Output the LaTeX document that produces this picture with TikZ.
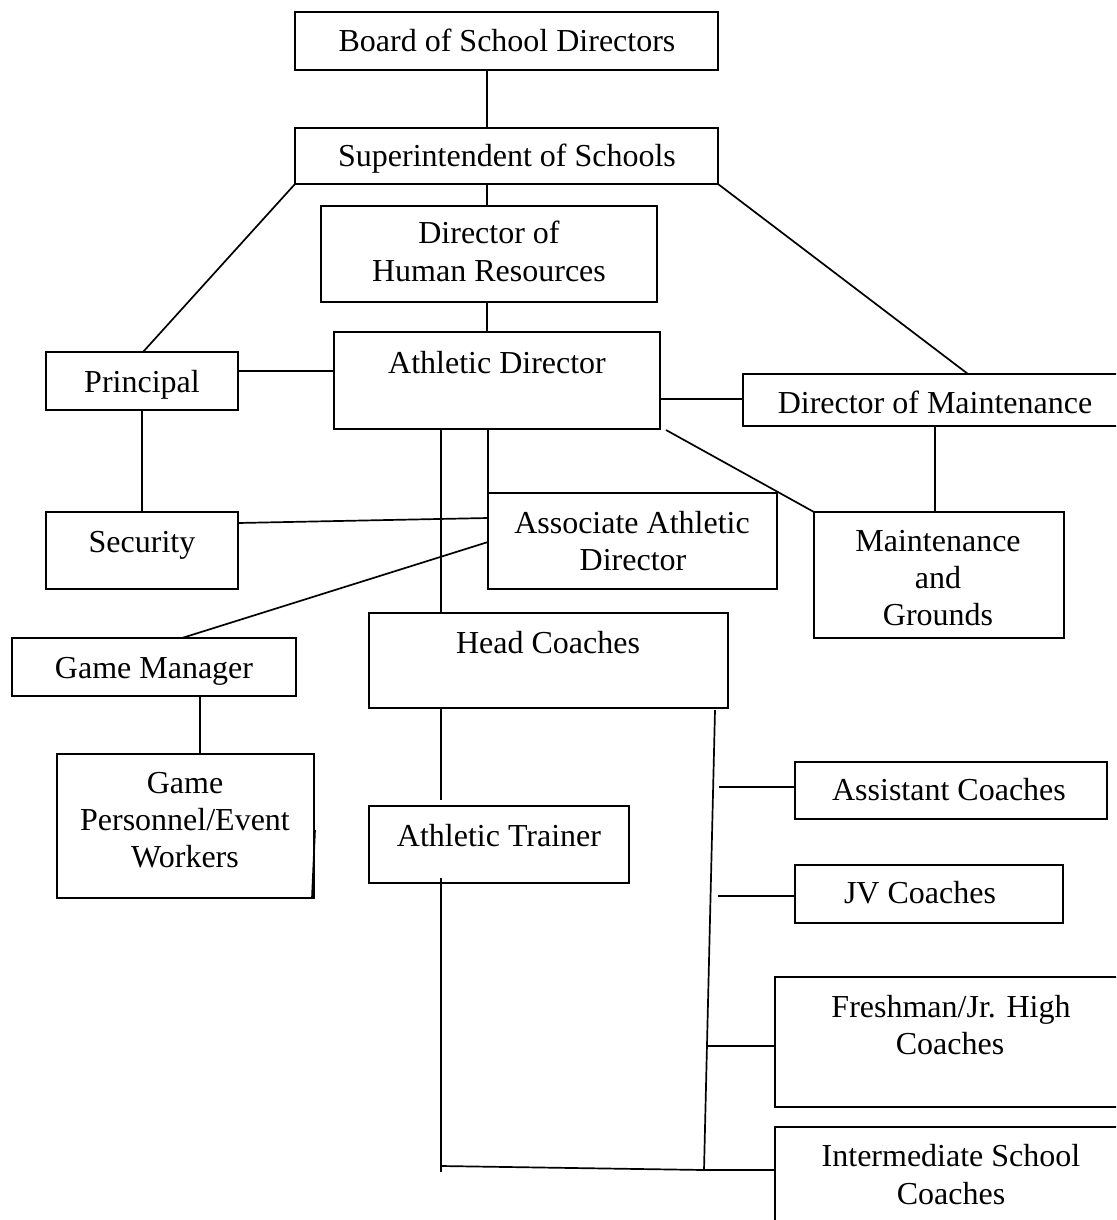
\documentclass[tikz,border=0pt]{standalone}
\usepackage{fontspec}
\setmainfont{Liberation Serif}
\usetikzlibrary{calc}
\newcommand\obox[5]{\node[orgbox, minimum width={(#4-#2)*1pt}, minimum height={(#5-#3)*1pt}] (#1) at ({(#2+#4)/2},{(#3+#5)/2}) {};}
\begin{document}
\begin{tikzpicture}[x=1pt,y=-1pt,
  orgbox/.style={draw, line width=2pt, inner sep=0pt, outer sep=0pt},
  txt/.style={anchor=base, inner sep=0pt, font=\fontsize{32}{38}\selectfont},
  conn/.style={line width=1.7pt}]
\path[use as bounding box, fill=white] (0,0) rectangle (1116,1220);
\clip (0,0) rectangle (1116,1220);
% boxes
\obox{board}{295}{12}{718}{70}
\obox{super}{295}{128}{718}{184}
\obox{hr}{321}{206}{657}{302}
\obox{ad}{334}{332}{660}{429}
\obox{principal}{46}{352}{238}{410}
\obox{dm}{743}{374}{1140}{426}
\obox{mg}{814}{512}{1064}{638}
\obox{security}{46}{512}{238}{589}
\obox{assoc}{488}{493}{777}{589}
\obox{hc}{369}{613}{728}{708}
\obox{gm}{12}{638}{296}{696}
\obox{gp}{57}{754}{314}{898}
\obox{at}{369}{806}{629}{883}
\obox{asst}{795}{762}{1107}{819}
\obox{jv}{795}{865}{1063}{923}
\obox{fresh}{775}{977}{1140}{1107}
\obox{inter}{775}{1127}{1140}{1260}
% texts
\node[txt] (boardT) at (507,52) {Board of School Directors};
\node[txt] (superT) at (507,166) {Superintendent of Schools};
\node[txt] (hrT1) at (489,243) {Director of};
\node[txt] (hrT2) at (489,281) {Human Resources};
\node[txt] (adT) at (497,373) {Athletic Director};
\node[txt] (principalT) at (142,392) {Principal};
\node[txt] (dmT) at (935,413) {Director of Maintenance};
\node[txt] (mgT1) at (938,551) {Maintenance};
\node[txt] (mgT2) at (938,588) {and};
\node[txt] (mgT3) at (938,625) {Grounds};
\node[txt] (securityT) at (142,552) {Security};
\node[txt] (assocT1) at (632,533) {Associate Athletic};
\node[txt] (assocT2) at (633,570) {Director};
\node[txt] (hcT) at (548,653) {Head Coaches};
\node[txt] (gmT) at (154,678) {Game Manager};
\node[txt] (gpT1) at (185,793) {Game};
\node[txt] (gpT2) at (185,830) {Personnel/Event};
\node[txt] (gpT3) at (185,867) {Workers};
\node[txt] (atT) at (499,846) {Athletic Trainer};
\node[txt] (asstT) at (949,800) {Assistant Coaches};
\node[txt] (jvT) at (920,903) {JV Coaches};
\node[txt] (freshT1) at (951,1017) {Freshman/Jr. High};
\node[txt] (freshT2) at (950,1054) {Coaches};
\node[txt] (interT1) at (951,1166) {Intermediate School};
\node[txt] (interT2) at (951,1204) {Coaches};
% junction coordinates
\coordinate (tp) at (715,710);
\coordinate (jr) at (704,1170);
\coordinate (jl) at (441,1166);
\coordinate (atbot) at (441,1172);
\coordinate (s1) at (719,787);
\coordinate (s2) at (718,896);
\coordinate (s3) at (706,1046);
% connectors
\draw[conn] ($(board.south west)+(192,0)$) -- ($(super.north west)+(192,0)$);
\draw[conn] ($(super.south west)+(192,0)$) -- ($(hr.north west)+(166,0)$);
\draw[conn] ($(hr.south west)+(166,0)$) -- ($(ad.north west)+(153,0)$);
\draw[conn] (super.south west) -- ($(principal.north west)+(97,0)$);
\draw[conn] (super.south east) -- ($(dm.north west)+(225,0)$);
\draw[conn] ($(principal.north east)+(0,19)$) -- ($(ad.north west)+(0,39)$);
\draw[conn] ($(ad.north east)+(0,67)$) -- ($(dm.north west)+(0,25)$);
\draw[conn] ($(ad.south east)+(6,1)$) -- (mg.north west);
\draw[conn] ($(dm.south west)+(192,0)$) -- ($(mg.north west)+(121,0)$);
\draw[conn] ($(principal.south west)+(96,0)$) -- ($(security.north west)+(96,0)$);
\draw[conn] ($(security.north east)+(0,11)$) -- ($(assoc.north west)+(0,25)$);
\draw[conn] ($(assoc.north west)+(0,49)$) -- ($(gm.north west)+(170,0)$);
\draw[conn] ($(ad.south west)+(154,0)$) -- (assoc.north west);
\draw[conn] ($(ad.south west)+(107,0)$) -- ($(hc.north west)+(72,0)$);
\draw[conn] ($(gm.south west)+(188,0)$) -- ($(gp.north west)+(143,0)$);
\draw[conn] ($(hc.south west)+(72,0)$) -- ($(at.north west)+(72,-6)$);
\draw[conn] ($(at.south west)+(72,-5)$) -- (atbot);
\draw[conn] (tp) -- (jr);
\draw[conn] (jl) -- (jr) -- ($(inter.north west)+(0,43)$);
\draw[conn] (s1) -- ($(asst.north west)+(0,25)$);
\draw[conn] (s2) -- ($(jv.north west)+(0,31)$);
\draw[conn] (s3) -- ($(fresh.north west)+(0,69)$);
\draw[conn] ($(gp.north east)+(1,76)$) -- ($(gp.south east)+(-2,0)$);
\end{tikzpicture}
\end{document}
